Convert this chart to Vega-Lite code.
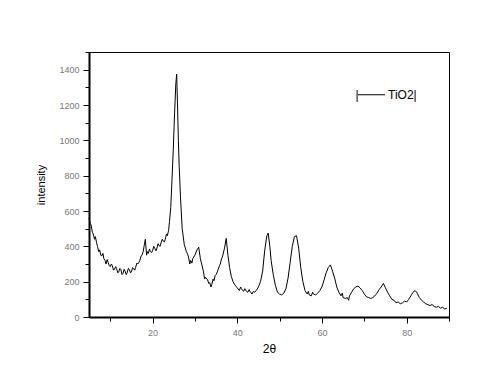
{
  "$schema": "https://vega.github.io/schema/vega-lite/v6.json",
  "width": 360,
  "height": 265,
  "autosize": "none",
  "padding": {"left": 89, "top": 52, "right": 51, "bottom": 69},
  "background": "white",
  "config": {
    "view": {"stroke": "black", "strokeWidth": 1},
    "font": "Liberation Sans"
  },
  "datasets": {
    "xrd": [
      {"t": 5, "i": 560}, {"t": 5.3, "i": 530}, {"t": 5.5, "i": 520}, {"t": 5.8, "i": 480}, {"t": 6, "i": 470}, {"t": 6.3, "i": 440}, {"t": 6.5, "i": 455}, {"t": 6.8, "i": 420},
      {"t": 7, "i": 400}, {"t": 7.3, "i": 370}, {"t": 7.5, "i": 380}, {"t": 7.8, "i": 350}, {"t": 8, "i": 345}, {"t": 8.3, "i": 360}, {"t": 8.5, "i": 330}, {"t": 8.8, "i": 320},
      {"t": 9, "i": 300}, {"t": 9.3, "i": 325}, {"t": 9.5, "i": 310}, {"t": 9.8, "i": 290}, {"t": 10, "i": 285}, {"t": 10.3, "i": 300}, {"t": 10.5, "i": 290}, {"t": 10.8, "i": 265},
      {"t": 11, "i": 270}, {"t": 11.3, "i": 285}, {"t": 11.5, "i": 275}, {"t": 11.8, "i": 250}, {"t": 12, "i": 255}, {"t": 12.3, "i": 275}, {"t": 12.5, "i": 270}, {"t": 12.8, "i": 240},
      {"t": 13, "i": 245}, {"t": 13.3, "i": 270}, {"t": 13.5, "i": 260}, {"t": 13.8, "i": 240}, {"t": 14, "i": 250}, {"t": 14.3, "i": 275}, {"t": 14.5, "i": 270}, {"t": 14.8, "i": 250},
      {"t": 15, "i": 255}, {"t": 15.3, "i": 280}, {"t": 15.5, "i": 275}, {"t": 15.8, "i": 265}, {"t": 16, "i": 280}, {"t": 16.3, "i": 305}, {"t": 16.5, "i": 300}, {"t": 16.8, "i": 310},
      {"t": 17, "i": 320}, {"t": 17.3, "i": 345}, {"t": 17.5, "i": 350}, {"t": 17.8, "i": 370}, {"t": 18, "i": 400}, {"t": 18.3, "i": 440}, {"t": 18.6, "i": 350}, {"t": 18.8, "i": 370},
      {"t": 19, "i": 360}, {"t": 19.3, "i": 385}, {"t": 19.5, "i": 370}, {"t": 19.8, "i": 365}, {"t": 20, "i": 375}, {"t": 20.3, "i": 400}, {"t": 20.5, "i": 390}, {"t": 20.8, "i": 375},
      {"t": 21, "i": 385}, {"t": 21.3, "i": 415}, {"t": 21.5, "i": 405}, {"t": 21.8, "i": 400}, {"t": 22, "i": 420}, {"t": 22.3, "i": 440}, {"t": 22.5, "i": 430}, {"t": 22.8, "i": 425},
      {"t": 23, "i": 440}, {"t": 23.3, "i": 470}, {"t": 23.5, "i": 460}, {"t": 23.8, "i": 490}, {"t": 24, "i": 540}, {"t": 24.3, "i": 620}, {"t": 24.6, "i": 780}, {"t": 24.9, "i": 950},
      {"t": 25.2, "i": 1150}, {"t": 25.5, "i": 1320}, {"t": 25.7, "i": 1375}, {"t": 25.9, "i": 1200}, {"t": 26.1, "i": 1000}, {"t": 26.3, "i": 850}, {"t": 26.6, "i": 680}, {"t": 27, "i": 500},
      {"t": 27.5, "i": 410}, {"t": 28, "i": 370}, {"t": 28.3, "i": 355}, {"t": 28.5, "i": 340}, {"t": 28.8, "i": 300}, {"t": 29, "i": 320}, {"t": 29.3, "i": 305}, {"t": 29.5, "i": 330},
      {"t": 30, "i": 350}, {"t": 30.5, "i": 380}, {"t": 30.9, "i": 395}, {"t": 31.3, "i": 330}, {"t": 31.6, "i": 300}, {"t": 32, "i": 260}, {"t": 32.3, "i": 215}, {"t": 32.5, "i": 225},
      {"t": 33, "i": 210}, {"t": 33.3, "i": 190}, {"t": 33.5, "i": 195}, {"t": 33.8, "i": 170}, {"t": 34, "i": 185}, {"t": 34.3, "i": 215}, {"t": 34.5, "i": 205}, {"t": 34.8, "i": 235}, {"t": 35, "i": 240}, {"t": 35.3, "i": 255}, {"t": 35.5, "i": 270},
      {"t": 35.8, "i": 290}, {"t": 36, "i": 300}, {"t": 36.3, "i": 330}, {"t": 36.5, "i": 340}, {"t": 37, "i": 390}, {"t": 37.4, "i": 445}, {"t": 37.8, "i": 350}, {"t": 38.2, "i": 280}, {"t": 38.6, "i": 230}, {"t": 39, "i": 200},
      {"t": 39.5, "i": 180}, {"t": 40, "i": 165}, {"t": 40.5, "i": 150}, {"t": 40.8, "i": 170}, {"t": 41, "i": 160}, {"t": 41.5, "i": 145}, {"t": 41.8, "i": 160}, {"t": 42, "i": 150}, {"t": 42.5, "i": 140}, {"t": 42.8, "i": 155}, {"t": 43, "i": 145},
      {"t": 43.5, "i": 130}, {"t": 43.8, "i": 145}, {"t": 44, "i": 140}, {"t": 44.5, "i": 150}, {"t": 45, "i": 170}, {"t": 45.5, "i": 200}, {"t": 46, "i": 260}, {"t": 46.5, "i": 380}, {"t": 47, "i": 460},
      {"t": 47.3, "i": 475}, {"t": 47.7, "i": 400}, {"t": 48, "i": 320}, {"t": 48.5, "i": 240}, {"t": 49, "i": 180}, {"t": 49.5, "i": 140}, {"t": 50, "i": 130}, {"t": 50.5, "i": 125},
      {"t": 51, "i": 135}, {"t": 51.5, "i": 160}, {"t": 52, "i": 220}, {"t": 52.5, "i": 310}, {"t": 53, "i": 400}, {"t": 53.5, "i": 455}, {"t": 54, "i": 460}, {"t": 54.5, "i": 390},
      {"t": 55, "i": 280}, {"t": 55.5, "i": 200}, {"t": 56, "i": 150}, {"t": 56.5, "i": 130}, {"t": 56.8, "i": 145}, {"t": 57, "i": 125}, {"t": 57.5, "i": 120}, {"t": 57.8, "i": 140}, {"t": 58, "i": 130}, {"t": 58.5, "i": 125},
      {"t": 59, "i": 135}, {"t": 59.5, "i": 150}, {"t": 60, "i": 170}, {"t": 60.5, "i": 210}, {"t": 61, "i": 250}, {"t": 61.5, "i": 280}, {"t": 62, "i": 295}, {"t": 62.5, "i": 260},
      {"t": 63, "i": 220}, {"t": 63.5, "i": 170}, {"t": 64, "i": 140}, {"t": 64.5, "i": 120}, {"t": 64.8, "i": 135}, {"t": 65, "i": 110}, {"t": 65.5, "i": 105}, {"t": 66, "i": 110}, {"t": 66.3, "i": 95}, {"t": 66.5, "i": 120},
      {"t": 67, "i": 140}, {"t": 67.5, "i": 160}, {"t": 68, "i": 170}, {"t": 68.5, "i": 175}, {"t": 69, "i": 165}, {"t": 69.5, "i": 150}, {"t": 70, "i": 130}, {"t": 70.5, "i": 115},
      {"t": 71, "i": 110}, {"t": 71.5, "i": 105}, {"t": 72, "i": 110}, {"t": 72.5, "i": 120}, {"t": 73, "i": 135}, {"t": 73.5, "i": 155}, {"t": 74, "i": 170}, {"t": 74.5, "i": 190},
      {"t": 75, "i": 165}, {"t": 75.5, "i": 140}, {"t": 76, "i": 120}, {"t": 76.5, "i": 100}, {"t": 77, "i": 95}, {"t": 77.5, "i": 80}, {"t": 78, "i": 85}, {"t": 78.5, "i": 75},
      {"t": 79, "i": 80}, {"t": 79.5, "i": 90}, {"t": 80, "i": 85}, {"t": 80.5, "i": 100}, {"t": 81, "i": 120}, {"t": 81.5, "i": 140}, {"t": 82, "i": 150}, {"t": 82.5, "i": 135},
      {"t": 83, "i": 110}, {"t": 83.5, "i": 95}, {"t": 84, "i": 85}, {"t": 84.5, "i": 75}, {"t": 85, "i": 70}, {"t": 85.5, "i": 65}, {"t": 86, "i": 70}, {"t": 86.5, "i": 60},
      {"t": 87, "i": 55}, {"t": 87.5, "i": 60}, {"t": 88, "i": 50}, {"t": 88.5, "i": 55}, {"t": 89, "i": 45}, {"t": 89.5, "i": 50}
    ]
  },
  "resolve": {"axis": {"x": "independent", "y": "independent"}},
  "layer": [
    {
      "data": {"name": "xrd"},
      "mark": {"type": "line", "color": "black", "strokeWidth": 1},
      "encoding": {
        "x": {
          "field": "t", "type": "quantitative",
          "scale": {"domain": [5, 90], "nice": false, "zero": false},
          "axis": {
            "title": "2θ", "values": [20, 40, 60, 80], "format": "d", "grid": false,
            "domainColor": "black", "domainWidth": 2, "tickColor": "black", "tickSize": 6, "tickWidth": 1,
            "labelFont": "Liberation Sans", "labelFontSize": 9, "labelColor": "#777777", "labelPadding": 5,
            "titleFont": "Liberation Sans", "titleFontSize": 12, "titleFontWeight": "normal", "titleColor": "black", "titlePadding": 6
          }
        },
        "y": {
          "field": "i", "type": "quantitative",
          "scale": {"domain": [0, 1500], "nice": false},
          "axis": {
            "title": "intensity", "values": [0, 200, 400, 600, 800, 1000, 1200, 1400], "format": "d", "grid": false,
            "domainColor": "black", "domainWidth": 2, "tickColor": "black", "tickSize": 6, "tickWidth": 1,
            "labelFont": "Liberation Sans", "labelFontSize": 9, "labelColor": "#777777", "labelPadding": 4,
            "titleFont": "Liberation Sans", "titleFontSize": 11, "titleFontWeight": "normal", "titleColor": "black", "titlePadding": 12
          }
        }
      }
    },
    {
      "data": {"name": "xrd"},
      "mark": {"type": "line", "strokeOpacity": 0},
      "encoding": {
        "x": {
          "field": "t", "type": "quantitative",
          "scale": {"domain": [5, 90], "nice": false, "zero": false},
          "axis": {"orient": "bottom", "title": null, "values": [10, 30, 50, 70, 90], "labels": false, "domain": false, "grid": false, "tickColor": "black", "tickSize": 4}
        },
        "y": {
          "field": "i", "type": "quantitative",
          "scale": {"domain": [0, 1500], "nice": false},
          "axis": {"orient": "left", "title": null, "values": [100, 300, 500, 700, 900, 1100, 1300, 1500], "labels": false, "domain": false, "grid": false, "tickColor": "black", "tickSize": 4}
        }
      }
    },
    {
      "data": {"values": [{"a": 68.5, "b": 74.9, "y": 1258}]},
      "mark": {"type": "rule", "color": "black", "strokeWidth": 1},
      "encoding": {
        "x": {"field": "a", "type": "quantitative", "scale": {"domain": [5, 90]}, "axis": null},
        "x2": {"field": "b"},
        "y": {"field": "y", "type": "quantitative", "scale": {"domain": [0, 1500]}, "axis": null}
      }
    },
    {
      "data": {"values": [{"x": 67.9, "y": 1258, "s": "|"}, {"x": 75.6, "y": 1258, "s": "TiO2|"}]},
      "mark": {"type": "text", "align": "left", "baseline": "middle", "font": "Liberation Sans", "fontSize": 12, "color": "black"},
      "encoding": {
        "x": {"field": "x", "type": "quantitative", "scale": {"domain": [5, 90]}, "axis": null},
        "y": {"field": "y", "type": "quantitative", "scale": {"domain": [0, 1500]}, "axis": null},
        "text": {"field": "s"}
      }
    }
  ]
}
